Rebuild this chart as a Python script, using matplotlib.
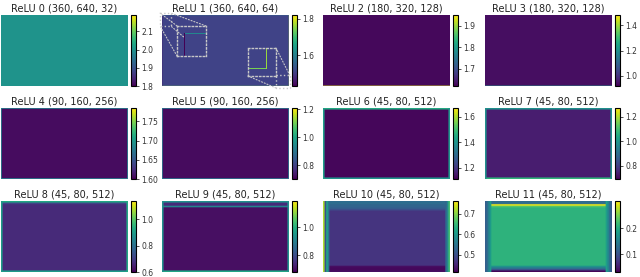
import matplotlib
matplotlib.use("Agg")
import matplotlib.pyplot as plt
import numpy as np

# --- data: per-layer activation maps ---
titles = ["ReLU 0 (360, 640, 32)", "ReLU 1 (360, 640, 64)", "ReLU 2 (180, 320, 128)",
          "ReLU 3 (180, 320, 128)", "ReLU 4 (90, 160, 256)", "ReLU 5 (90, 160, 256)",
          "ReLU 6 (45, 80, 512)", "ReLU 7 (45, 80, 512)", "ReLU 8 (45, 80, 512)",
          "ReLU 9 (45, 80, 512)", "ReLU 10 (45, 80, 512)", "ReLU 11 (45, 80, 512)"]
shapes = [(360, 640), (360, 640), (180, 320), (180, 320), (90, 160), (90, 160),
          (45, 80), (45, 80), (45, 80), (45, 80), (45, 80), (45, 80)]
vmins = [1.80, 1.43, 1.62, 0.92, 1.60, 0.70, 1.11, 0.69, 0.60, 0.68, 0.417, 0.031]
vmaxs = [2.19, 1.82, 1.95, 1.48, 1.785, 1.21, 1.67, 1.27, 1.136, 1.186, 0.763, 0.304]
interior = [2.00, 1.508, 1.627, 0.94, 1.606, 0.715, 1.12, 0.736, 0.664, 0.70, 0.469, 0.208]

# border profiles, listed from the edge inwards
top_rows = [[], [1.61], [], [], [1.68], [0.90], [1.45], [0.98], [0.92, 0.707],
            [0.933, 0.74, 0.74, 0.908], [0.54, 0.54, 0.53, 0.53, 0.52, 0.50],
            [0.125, 0.13, 0.295, 0.23]]
bottom_rows = [[], [1.74], [1.93], [1.23], [1.68], [0.90], [1.40], [1.07], [0.895],
               [0.98], [0.43, 0.424, 0.424, 0.43], [0.035, 0.10, 0.14, 0.17]]
left_cols = [[], [1.43], [], [], [1.68], [0.90], [1.42], [0.98], [0.895],
             [0.933], [0.72, 0.50, 0.62, 0.56], [0.113, 0.127, 0.154, 0.18]]
right_cols = [[], [1.76], [], [], [1.68], [0.90], [1.40], [0.98], [0.92],
              [0.933], [0.66, 0.58, 0.53], [0.11, 0.13, 0.16, 0.185]]

cbar_ticks = [[1.8, 1.9, 2.0, 2.1], [1.6, 1.8], [1.7, 1.8, 1.9], [1.0, 1.2, 1.4],
              [1.60, 1.65, 1.70, 1.75], [0.8, 1.0, 1.2], [1.2, 1.4, 1.6], [0.8, 1.0, 1.2],
              [0.6, 0.8, 1.0], [0.8, 1.0], [0.5, 0.6, 0.7], [0.1, 0.2]]
tick_fmt = ["%.1f", "%.1f", "%.1f", "%.1f", "%.2f", "%.1f", "%.1f", "%.1f", "%.1f", "%.1f", "%.1f", "%.1f"]


def build_map(i):
    img = np.full(shapes[i], interior[i])
    for k, v in enumerate(top_rows[i]):
        img[k, :] = v
    for k, v in enumerate(bottom_rows[i]):
        img[-1 - k, :] = v
    for k, v in enumerate(left_cols[i]):
        img[:, k] = v
    for k, v in enumerate(right_cols[i]):
        img[:, -1 - k] = v
    return img


W, H = 640, 277
fig = plt.figure(figsize=(W / 100, H / 100), dpi=100)

img_left = [1, 162, 323, 485]
cb_left = [131, 292, 453, 615]
row_top = [15, 108, 201]
img_w, img_h, cb_w = 127, 71, 4.5

for i in range(12):
    r, c = divmod(i, 4)
    bottom = (H - row_top[r] - img_h) / H
    ax = fig.add_axes([img_left[c] / W, bottom, img_w / W, img_h / H])
    cax = fig.add_axes([cb_left[c] / W, bottom, cb_w / W, img_h / H])
    data = build_map(i)
    im = ax.imshow(data, cmap="viridis", vmin=vmins[i], vmax=vmaxs[i], aspect="auto")
    ax.axis("off")
    ax.set_title(titles[i], fontsize=7, pad=2.5, color="#222222")
    cb = fig.colorbar(im, cax=cax, ticks=cbar_ticks[i], format=tick_fmt[i])
    cb.ax.tick_params(labelsize=5.5, length=2.5, width=0.6, pad=1.5, colors="#333333")
    cb.outline.set_linewidth(0.8)

    if i == 1:
        rows, cols = shapes[i]
        ax.set_xlim(-0.5, cols - 0.5)
        ax.set_ylim(rows - 0.5, -0.5)
        zooms = [
            ([0.118, 0.423, 0.228, 0.423], (-6, 16), (16, -6), [-10, -10, 55, 66]),
            ([0.677, 0.141, 0.220, 0.394], (626, 646), (366, 340), [575, 304, 68, 66]),
        ]
        for rect, xl, yl, bounds in zooms:
            axins = ax.inset_axes(rect)
            axins.imshow(data, cmap="viridis", vmin=vmins[i], vmax=vmaxs[i],
                         interpolation="nearest", aspect="auto")
            axins.set_xlim(*xl)
            axins.set_ylim(*yl)
            axins.set_xticks([])
            axins.set_yticks([])
            axins.set_facecolor("none")
            for sp in axins.spines.values():
                sp.set_linestyle(":")
                sp.set_edgecolor("#c8c8c8")
                sp.set_linewidth(1.0)
            ind = ax.indicate_inset(bounds, inset_ax=axins, edgecolor="#c8c8c8",
                                    alpha=1.0, linestyle=":", linewidth=1.0)
            for con in ind.connectors:
                con.set_linestyle(":")
                con.set_edgecolor("#c8c8c8")
                con.set_alpha(1.0)
                con.set_linewidth(0.8)

fig.savefig("out.png", dpi=100)
